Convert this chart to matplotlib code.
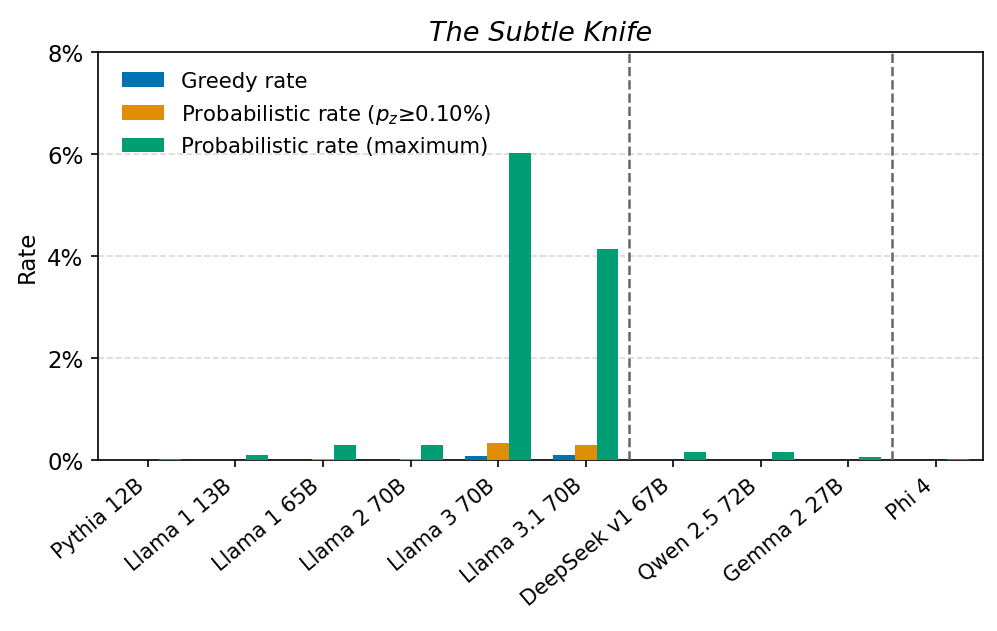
import matplotlib
matplotlib.use("Agg")
import matplotlib.pyplot as plt
import numpy as np
from matplotlib.ticker import FuncFormatter

models = ["Pythia 12B", "Llama 1 13B", "Llama 1 65B", "Llama 2 70B", "Llama 3 70B",
          "Llama 3.1 70B", "DeepSeek v1 67B", "Qwen 2.5 72B", "Gemma 2 27B", "Phi 4"]
greedy = [0.0, 0.0, 0.0, 0.0, 0.08, 0.10, 0.0, 0.0, 0.0, 0.0]
prob_thresh = [0.0, 0.0, 0.02, 0.02, 0.34, 0.29, 0.0, 0.0, 0.0, 0.0]
prob_max = [0.02, 0.10, 0.30, 0.29, 6.02, 4.14, 0.15, 0.16, 0.065, 0.02]
dividers = [5.5, 8.5]

colors = ["#0173B2", "#DE8F05", "#029E73"]

fig = plt.figure(figsize=(997/150, 632/150), dpi=150)
ax = fig.add_axes([0.0983, 0.2706, 0.8877, 0.6455])
x = np.arange(len(models))
w = 0.25
ax.bar(x - w, greedy, w, color=colors[0], label="Greedy rate", zorder=3)
ax.bar(x, prob_thresh, w, color=colors[1], label=r"Probabilistic rate ($p_z$≥0.10%)", zorder=3)
ax.bar(x + w, prob_max, w, color=colors[2], label="Probabilistic rate (maximum)", zorder=3)
for d in dividers:
    ax.axvline(d, color="#666666", linestyle="--", linewidth=1.2, zorder=4)
ax.set_ylim(0, 8)
ax.set_xlim(-0.57, 9.54)
ax.set_yticks([0, 2, 4, 6, 8])
ax.yaxis.set_major_formatter(FuncFormatter(lambda v, p: f"{v:.0f}%"))
ax.yaxis.grid(True, linestyle="--", color="#d9d9d9", linewidth=0.8, zorder=0)
ax.set_axisbelow(True)
ax.set_xticks(x)
ax.set_xticklabels(models, rotation=40, ha="right", fontsize=10)
ax.tick_params(axis="y", labelsize=11)
ax.set_ylabel("Rate", fontsize=11)
ax.set_title("The Subtle Knife", fontsize=13, style="italic")
ax.legend(loc="upper left", frameon=False, fontsize=10.2,
          bbox_to_anchor=(0.005, 1.0))
fig.savefig("out.png", dpi=150)
